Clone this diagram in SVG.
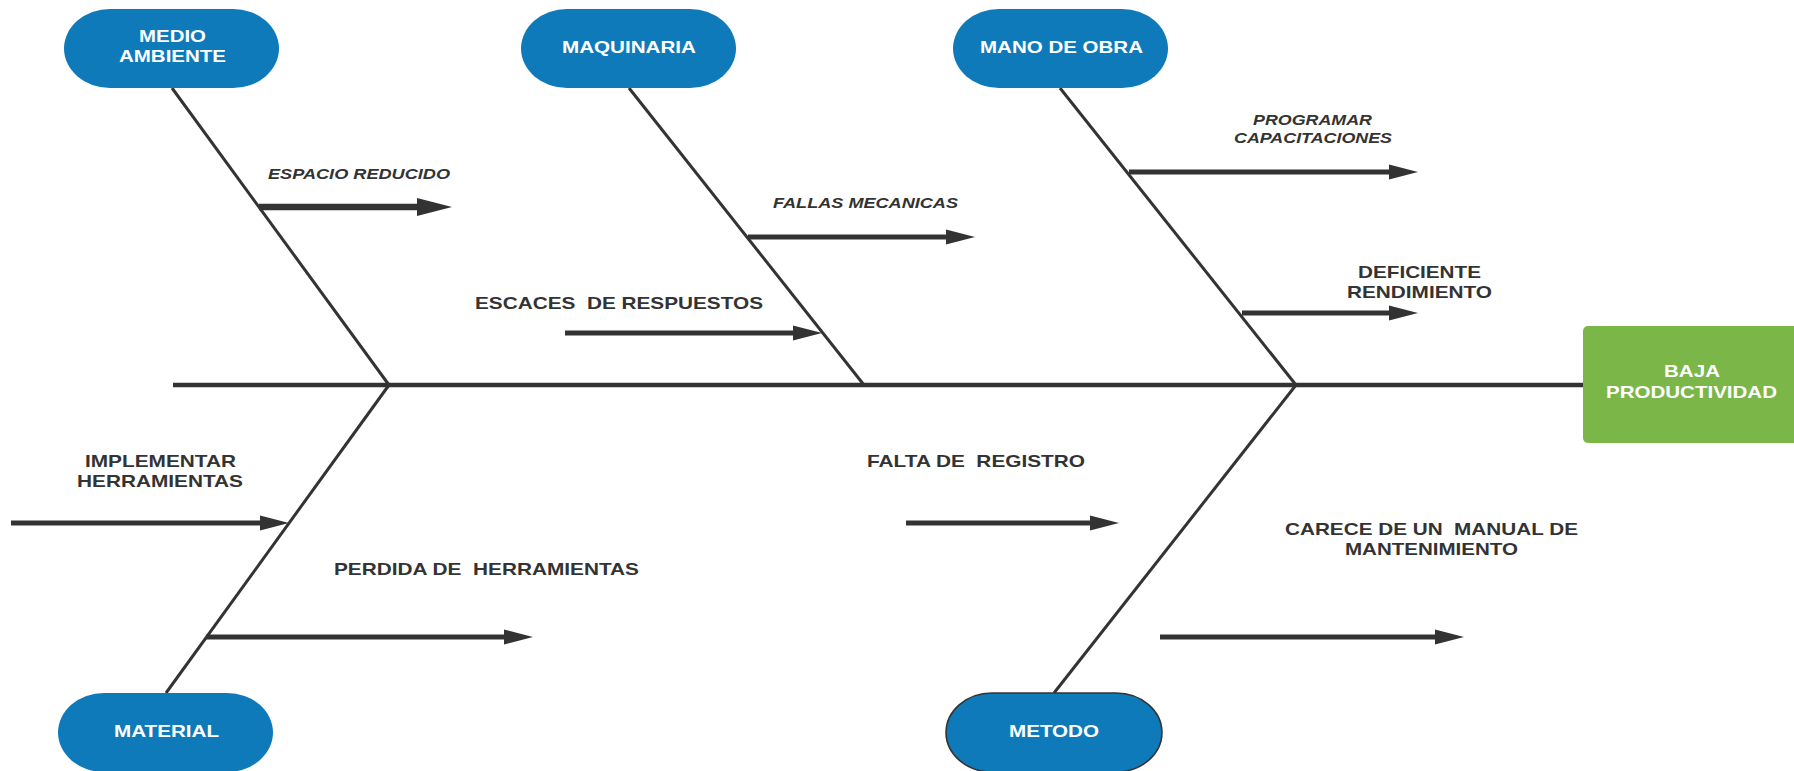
<svg xmlns="http://www.w3.org/2000/svg" width="1794" height="771" viewBox="0 0 1794 771">
<defs>
<style>
.pill{fill:#0e7aba}
.pt{font-family:"Liberation Sans",Arial,sans-serif;font-weight:bold;font-size:16.5px;fill:#ffffff;white-space:pre}
.lb{font-family:"Liberation Sans",Arial,sans-serif;font-weight:bold;font-size:17px;fill:#333333;white-space:pre}
.it{font-family:"Liberation Sans",Arial,sans-serif;font-weight:bold;font-style:italic;font-size:14px;fill:#333333;white-space:pre}
.bone{stroke:#333333;stroke-width:3;fill:none}
.spine{stroke:#333333;stroke-width:4.5;fill:none}
.arr{stroke:#333333;stroke-width:5;fill:none;marker-end:url(#ah)}
.arrb{stroke:#333333;stroke-width:6.5;fill:none;marker-end:url(#ahb)}
</style>
<marker id="ah" markerUnits="userSpaceOnUse" markerWidth="30" markerHeight="16" refX="2" refY="8" orient="auto">
<path d="M0,0.5 L29,8 L0,15.5 z" fill="#333333"/>
</marker>
<marker id="ahb" markerUnits="userSpaceOnUse" markerWidth="36" markerHeight="20" refX="2" refY="10" orient="auto">
<path d="M0,1 L35,10 L0,19 z" fill="#333333"/>
</marker>
</defs>
<rect width="1794" height="771" fill="#ffffff"/>
<g id="connectors">
<line class="spine" x1="173" y1="385" x2="1584" y2="385"/>
<line class="bone" x1="172" y1="88" x2="389" y2="385"/>
<line class="bone" x1="629" y1="88" x2="864" y2="385"/>
<line class="bone" x1="1060" y1="88" x2="1296" y2="385"/>
<line class="bone" x1="389" y1="385" x2="166" y2="693"/>
<line class="bone" x1="1296" y1="385" x2="1054" y2="693"/>
<line class="arrb" x1="259" y1="207" x2="419" y2="207"/>
<line class="arr" x1="748" y1="237" x2="948" y2="237"/>
<line class="arr" x1="565" y1="333" x2="795" y2="333"/>
<line class="arr" x1="1129" y1="172" x2="1391" y2="172"/>
<line class="arr" x1="1242" y1="313" x2="1391" y2="313"/>
<line class="arr" x1="11" y1="523" x2="262" y2="523"/>
<line class="arr" x1="206" y1="637" x2="506" y2="637"/>
<line class="arr" x1="906" y1="523" x2="1092" y2="523"/>
<line class="arr" x1="1160" y1="637" x2="1437" y2="637"/>
</g>
<g id="medio-ambiente">
<rect class="pill" x="64" y="9" width="215" height="79" rx="46" ry="39.5"/>
<text class="pt" x="139" y="42" textLength="67" lengthAdjust="spacingAndGlyphs">MEDIO</text>
<text class="pt" x="119" y="62" textLength="107" lengthAdjust="spacingAndGlyphs">AMBIENTE</text>
</g>
<g id="maquinaria">
<rect class="pill" x="521" y="9" width="215" height="79" rx="46" ry="39.5"/>
<text class="pt" x="562" y="53" textLength="134" lengthAdjust="spacingAndGlyphs">MAQUINARIA</text>
</g>
<g id="mano-de-obra">
<rect class="pill" x="953" y="9" width="215" height="79" rx="46" ry="39.5"/>
<text class="pt" x="980" y="53" textLength="163" lengthAdjust="spacingAndGlyphs">MANO DE OBRA</text>
</g>
<g id="material">
<rect class="pill" x="58" y="693" width="215" height="79" rx="46" ry="39.5"/>
<text class="pt" x="114" y="737" textLength="105" lengthAdjust="spacingAndGlyphs">MATERIAL</text>
</g>
<g id="metodo">
<rect class="pill" x="946" y="693" width="216" height="79" rx="46" ry="39.5" stroke="#333333" stroke-width="1.5"/>
<text class="pt" x="1009" y="737" textLength="90" lengthAdjust="spacingAndGlyphs">METODO</text>
</g>
<g id="baja-productividad">
<rect x="1583" y="326" width="216" height="117" rx="5" fill="#7ab648"/>
<text class="pt" x="1664" y="377" textLength="56" lengthAdjust="spacingAndGlyphs">BAJA</text>
<text class="pt" x="1606" y="398" textLength="171" lengthAdjust="spacingAndGlyphs">PRODUCTIVIDAD</text>
</g>
<g id="espacio-reducido">
<text class="it" x="268" y="179" textLength="182" lengthAdjust="spacingAndGlyphs">ESPACIO REDUCIDO</text>
</g>
<g id="fallas-mecanicas">
<text class="it" x="773" y="208" textLength="185" lengthAdjust="spacingAndGlyphs">FALLAS MECANICAS</text>
</g>
<g id="escaces-de-respuestos">
<text class="lb" x="475" y="309" textLength="288" lengthAdjust="spacingAndGlyphs">ESCACES  DE RESPUESTOS</text>
</g>
<g id="programar-capacitaciones">
<text class="it" x="1253" y="125" textLength="119" lengthAdjust="spacingAndGlyphs">PROGRAMAR</text>
<text class="it" x="1234" y="143" textLength="158" lengthAdjust="spacingAndGlyphs">CAPACITACIONES</text>
</g>
<g id="deficiente-rendimiento">
<text class="lb" x="1358" y="278" textLength="123" lengthAdjust="spacingAndGlyphs">DEFICIENTE</text>
<text class="lb" x="1347" y="298" textLength="145" lengthAdjust="spacingAndGlyphs">RENDIMIENTO</text>
</g>
<g id="implementar-herramientas">
<text class="lb" x="85" y="467" textLength="151" lengthAdjust="spacingAndGlyphs">IMPLEMENTAR</text>
<text class="lb" x="77" y="487" textLength="166" lengthAdjust="spacingAndGlyphs">HERRAMIENTAS</text>
</g>
<g id="perdida-de-herramientas">
<text class="lb" x="334" y="575" textLength="305" lengthAdjust="spacingAndGlyphs">PERDIDA DE  HERRAMIENTAS</text>
</g>
<g id="falta-de-registro">
<text class="lb" x="867" y="467" textLength="218" lengthAdjust="spacingAndGlyphs">FALTA DE  REGISTRO</text>
</g>
<g id="carece-manual">
<text class="lb" x="1285" y="535" textLength="293" lengthAdjust="spacingAndGlyphs">CARECE DE UN  MANUAL DE</text>
<text class="lb" x="1345" y="555" textLength="173" lengthAdjust="spacingAndGlyphs">MANTENIMIENTO</text>
</g>
</svg>
